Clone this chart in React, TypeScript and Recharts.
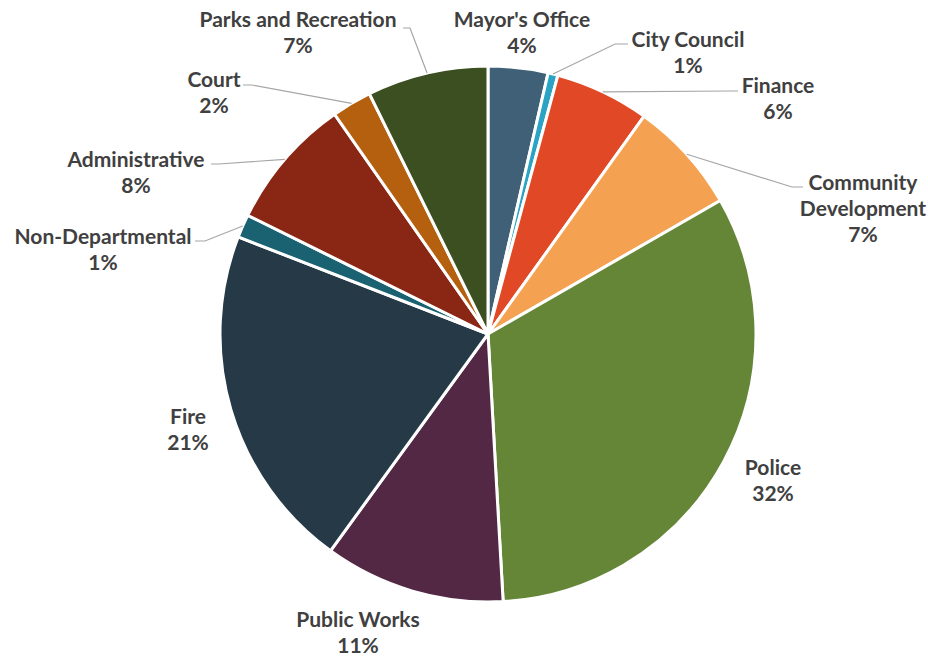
import React from 'react';
import { PieChart, Pie, Cell } from 'recharts';

const departments = [
  "Mayor's Office",
  'City Council',
  'Finance',
  'Community Development',
  'Police',
  'Public Works',
  'Fire',
  'Non-Departmental',
  'Administrative',
  'Court',
  'Parks and Recreation',
];
const shares = [3.6, 0.6, 5.7, 6.8, 32.4, 10.9, 20.9, 1.4, 8.0, 2.4, 7.3];
const nameLines = [
  ["Mayor's Office"],
  ['City Council'],
  ['Finance'],
  ['Community', 'Development'],
  ['Police'],
  ['Public Works'],
  ['Fire'],
  ['Non-Departmental'],
  ['Administrative'],
  ['Court'],
  ['Parks and Recreation'],
];
const colors = [
  '#3F6076',
  '#2BA3C4',
  '#E04826',
  '#F4A251',
  '#658636',
  '#532845',
  '#253946',
  '#1A6271',
  '#8A2614',
  '#B5600F',
  '#3C4F21',
];

// label placement relative to pie centre (px)
type Layout = { dx: number; dy: number; tail?: [number, number]; elbow?: [number, number] };
const labelLayout: Layout[] = [
  { dx: 34, dy: -303 },
  { dx: 200, dy: -283.5, tail: [140, -290], elbow: [127, -290] },
  { dx: 290, dy: -237, tail: [250, -243], elbow: [242, -243] },
  { dx: 375, dy: -127, tail: [315, -147], elbow: [304, -147] },
  { dx: 285, dy: 144.5 },
  { dx: -130, dy: 297 },
  { dx: -300, dy: 94 },
  { dx: -385, dy: -86, tail: [-293, -93], elbow: [-283, -93] },
  { dx: -352, dy: -163, tail: [-277, -170], elbow: [-269, -170] },
  { dx: -274, dy: -243, tail: [-245, -249], elbow: [-236, -249] },
  { dx: -190, dy: -303, tail: [-85, -306], elbow: [-78, -306] },
];

const data = departments.map((name, i) => ({ name, value: shares[i] }));
const total = shares.reduce((a, b) => a + b, 0);

const RAD = Math.PI / 180;
const LINE_H = 26;

const renderLabel = (props: any) => {
  const { cx, cy, midAngle, outerRadius, index } = props;
  const lay = labelLayout[index];
  const lines = [...nameLines[index], `${Math.round((shares[index] / total) * 100)}%`];
  const x = cx + lay.dx;
  const firstY = cy + lay.dy - ((lines.length - 1) * LINE_H) / 2;
  let leader = null;
  if (lay.tail && lay.elbow) {
    const ex = cx + outerRadius * Math.cos(-midAngle * RAD);
    const ey = cy + outerRadius * Math.sin(-midAngle * RAD);
    const pts = `${ex},${ey} ${cx + lay.elbow[0]},${cy + lay.elbow[1]} ${cx + lay.tail[0]},${cy + lay.tail[1]}`;
    leader = <polyline points={pts} fill="none" stroke="#A6A6A6" strokeWidth={1.2} />;
  }
  return (
    <g key={`lbl-${index}`}>
      {leader}
      <text
        x={x}
        y={firstY}
        textAnchor="middle"
        dominantBaseline="central"
        fill="#404040"
        style={{ fontFamily: 'Lato, sans-serif', fontWeight: 700, fontSize: 21 }}
      >
        {lines.map((t, i) => (
          <tspan key={i} x={x} y={firstY + i * LINE_H}>
            {t}
          </tspan>
        ))}
      </text>
    </g>
  );
};

export default function App() {
  return (
    <div style={{ width: 928, height: 657, background: '#fff' }}>
      <style>{`body{margin:0;}`}</style>
      <PieChart width={928} height={657} margin={{ top: 0, right: 0, bottom: 0, left: 0 }}>
        <Pie
          data={data}
          dataKey="value"
          nameKey="name"
          cx={488}
          cy={334}
          outerRadius={268}
          startAngle={90}
          endAngle={-270}
          stroke="#FFFFFF"
          strokeWidth={3}
          label={renderLabel}
          labelLine={false}
          isAnimationActive={false}
        >
          {data.map((d, i) => (
            <Cell key={d.name} fill={colors[i]} />
          ))}
        </Pie>
      </PieChart>
    </div>
  );
}
